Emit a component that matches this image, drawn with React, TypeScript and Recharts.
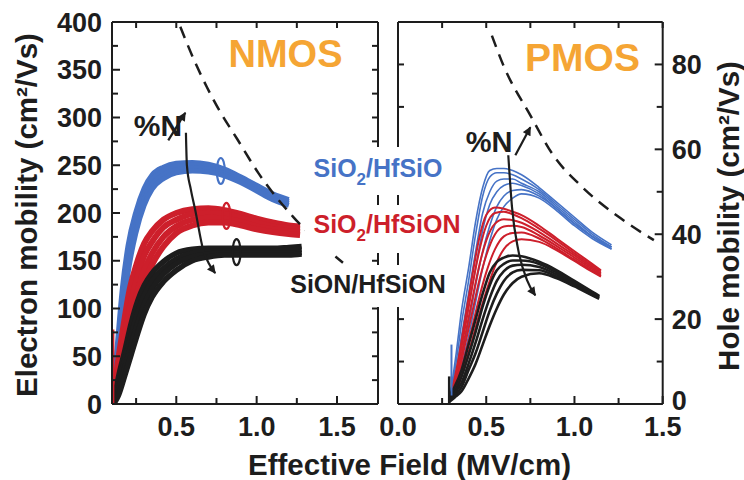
import React from "react";
import { ComposedChart, Line, Scatter, XAxis, YAxis } from "recharts";

// ---- NMOS panel: effective field (MV/cm) vs electron mobility (cm2/Vs)
const nBlueField = [0.105, 0.13, 0.165, 0.2, 0.25, 0.3, 0.35, 0.42, 0.5, 0.6, 0.7, 0.8, 0.9, 1.0, 1.1, 1.2];
const nBlue1 = [0, 55, 122, 166, 202, 226, 240, 248, 252, 253, 251, 246, 238, 229, 220, 214];
const nBlue2 = [0, 48, 110, 156, 195, 220, 235, 244, 249, 250, 249, 244, 236, 227, 218, 212];
const nBlue3 = [0, 41, 98, 146, 187, 214, 230, 240, 245, 247, 246, 241, 234, 225, 216, 210];
const nBlue4 = [0, 35, 88, 137, 180, 208, 225, 236, 242, 244, 243, 239, 232, 223, 214, 208];

const nRedField = [0.108, 0.13, 0.165, 0.21, 0.25, 0.3, 0.35, 0.42, 0.5, 0.6, 0.7, 0.8, 0.9, 1.0, 1.1, 1.2, 1.27];
const nRed1 = [0, 35, 75, 120, 145, 168, 181, 193, 200, 204, 205, 203, 199, 194, 190, 187, 186];
const nRed2 = [0, 25, 58, 100, 128, 155, 170, 185, 193, 199, 200, 199, 195, 190, 186, 184, 183];
const nRed3 = [0, 18, 45, 82, 112, 140, 158, 175, 186, 193, 195, 194, 191, 186, 183, 181, 180];
const nRed4 = [0, 12, 35, 70, 98, 126, 146, 165, 179, 187, 190, 190, 187, 183, 180, 178, 177];

const nBlackField = [0.11, 0.14, 0.18, 0.22, 0.26, 0.3, 0.35, 0.42, 0.5, 0.6, 0.7, 0.8, 0.9, 1.0, 1.1, 1.2, 1.28];
const nBlack1 = [0, 28, 56, 85, 108, 124, 137, 149, 158, 162, 163, 163, 163, 163, 163, 164, 165];
const nBlack2 = [0, 20, 46, 72, 96, 114, 129, 142, 152, 158, 160, 160, 160, 160, 160, 161, 162];
const nBlack3 = [0, 14, 38, 62, 85, 104, 121, 136, 147, 154, 157, 158, 158, 158, 158, 158, 159];
const nBlack4 = [0, 9, 30, 52, 74, 94, 112, 128, 140, 150, 154, 156, 156, 156, 156, 156, 157];

const nSpikeField = [0.107, 0.107];
const nSpikeMob = [0, 78];

const nDashField = [0.525, 0.606, 0.69, 0.773, 0.877, 1.01, 1.227, 1.537];
const nDashMob = [395, 362, 332, 306, 278, 242, 196, 148];

const nArrowDownField = [0.56, 0.566, 0.59, 0.618, 0.668, 0.7, 0.742];
const nArrowDownMob = [284, 250, 225, 203, 161, 148, 137];
const nArrowUpField = [0.45, 0.556];
const nArrowUpMob = [276, 305];

const nRingField = [0.777, 0.812, 0.875];
const nRingMob = [244, 197, 159];

// ---- PMOS panel: effective field (MV/cm) vs hole mobility (cm2/Vs)
const pBlueField = [0.3, 0.33, 0.36, 0.4, 0.44, 0.48, 0.52, 0.56, 0.6, 0.65, 0.7, 0.8, 0.9, 1.0, 1.1, 1.21];
const pBlue1 = [3, 12, 22, 32, 43, 51, 55, 55.5, 55.5, 55, 54, 51, 47.5, 44, 40.5, 37.5];
const pBlue2 = [3, 10, 19, 29, 40, 49, 53.5, 54.5, 54.5, 54, 53, 50.5, 47, 43.5, 40, 37];
const pBlue3 = [2, 8, 16, 26, 36, 45, 50, 52.5, 53, 53, 52, 50, 46.5, 43, 39.5, 36.5];
const pBlue4 = [2, 7, 14, 23, 32, 41, 47, 50, 51.5, 52, 51.5, 49.5, 46, 42.5, 39.5, 37];
const pBlue5 = [1, 5, 11, 19, 28, 36, 42, 46.5, 49, 50.3, 50.5, 49, 46, 42.5, 39.5, 37];
const pBlue6 = [1, 4, 9, 16, 24, 32, 38.5, 43.5, 46.5, 48.5, 49.5, 48.5, 45.5, 42, 39, 36.5];

const pRedField = [0.3, 0.34, 0.38, 0.42, 0.46, 0.5, 0.55, 0.6, 0.65, 0.7, 0.8, 0.9, 1.0, 1.1, 1.15];
const pRed1 = [2, 10, 20, 30, 39, 44.5, 46.3, 46, 45.3, 44.5, 42, 39, 36, 33, 31.5];
const pRed2 = [2, 9, 18, 27.5, 36, 42, 45, 45.3, 44.7, 43.8, 41.3, 38.5, 35.5, 32.6, 31.2];
const pRed3 = [1.5, 7.5, 16, 24.5, 32.5, 38.5, 42.5, 43.5, 43.3, 42.7, 40.5, 37.8, 35, 32.2, 30.8];
const pRed4 = [1.5, 6.5, 14, 21.5, 29, 35, 40, 41.8, 42, 41.7, 39.7, 37.2, 34.5, 31.8, 30.5];
const pRed5 = [1, 5, 11.5, 18, 25, 31, 36.5, 39.5, 40.3, 40.4, 39, 36.6, 34, 31.4, 30.2];
const pRed6 = [1, 4, 9.5, 15, 21, 26.5, 32.5, 36.5, 38.3, 38.8, 38.2, 36.2, 33.7, 31.2, 30];

const pBlackField = [0.29, 0.32, 0.36, 0.4, 0.44, 0.48, 0.52, 0.56, 0.6, 0.65, 0.7, 0.8, 0.9, 1.0, 1.1, 1.14];
const pBlack1 = [2, 4, 8, 14, 20, 26, 31, 33.5, 34.5, 35, 34.8, 33.5, 31.5, 29, 26.5, 25.5];
const pBlack2 = [1.5, 3, 6.5, 11.5, 17, 23, 28, 31.5, 33, 33.8, 33.8, 33, 31, 28.7, 26.3, 25.3];
const pBlack3 = [1, 2.5, 5, 9.5, 14.5, 20, 25, 29, 31.3, 32.6, 32.8, 32.3, 30.5, 28.3, 26, 25.2];
const pBlack4 = [1, 2, 4, 8, 12, 17, 22, 26, 29, 31, 31.6, 31.5, 30, 28, 25.8, 25];
const pBlack5 = [0.5, 1.5, 3, 6, 9.5, 14, 18.5, 22.5, 25.8, 28.5, 30, 30.8, 29.6, 27.7, 25.6, 24.8];

const pBlueSpikeField = [0.303, 0.303];
const pBlueSpikeMob = [2, 14];
const pBlackSpikeField = [0.29, 0.29];
const pBlackSpikeMob = [0, 6.5];

const pDashField = [0.532, 0.597, 0.75, 0.88, 1.034, 1.26, 1.45];
const pDashMob = [86.8, 79.8, 68, 58.6, 51.5, 43.8, 38.6];

const pArrowDownField = [0.625, 0.646, 0.682, 0.731, 0.778];
const pArrowDownMob = [58.6, 46.4, 36.2, 29.2, 25.6];
const pArrowUpField = [0.665, 0.75];
const pArrowUpMob = [58.6, 65.2];

// ---- ticks
const nFieldTicks = [0.25, 0.5, 0.75, 1.0, 1.25, 1.5];
const nFieldLabels = [0.5, 1.0, 1.5];
const nMobTicks = [0, 25, 50, 75, 100, 125, 150, 175, 200, 225, 250, 275, 300, 325, 350, 375, 400];
const nMobLabels = [0, 50, 100, 150, 200, 250, 300, 350, 400];
const pFieldTicks = [0, 0.25, 0.5, 0.75, 1.0, 1.25, 1.5];
const pFieldLabels = [0, 0.5, 1.0, 1.5];
const pMobTicks = [0, 10, 20, 30, 40, 50, 60, 70, 80];
const pMobLabels = [0, 20, 40, 60, 80];

const FONT = '"Liberation Sans", Arial, Helvetica, sans-serif';
const INK = "#1d1d1d";
const BLUE = "#4673c6";
const RED = "#cd1f2b";
const ORANGE = "#f5a534";
const AXIS = { stroke: INK, strokeWidth: 2 };

const pts = (xs: number[], vs: number[]) => xs.map((x, i) => ({ x, v: vs[i] }));

type Side = "bottom" | "top" | "left" | "right";

function makeTick(side: Side, labels: number[], digits: number) {
  return (props: any) => {
    const { x, y, payload } = props;
    const v = Number(payload.value);
    const labeled = labels.some((l) => Math.abs(l - v) < 1e-9);
    const len = labeled ? 8 : 6;
    const txt = digits > 0 ? v.toFixed(digits) : String(v);
    const style = { fontFamily: FONT, fontWeight: 700, fontSize: 27 };
    let tick = null;
    let label = null;
    if (side === "bottom") {
      tick = <line x1={x} y1={y} x2={x} y2={y - len} stroke={INK} strokeWidth={2} />;
      if (labeled) label = <text x={x} y={y + 32} textAnchor="middle" fill={INK} style={style}>{txt}</text>;
    } else if (side === "top") {
      tick = <line x1={x} y1={y} x2={x} y2={y + len} stroke={INK} strokeWidth={2} />;
    } else if (side === "left") {
      tick = <line x1={x} y1={y} x2={x + len} y2={y} stroke={INK} strokeWidth={2} />;
      if (labeled) label = <text x={x - 10} y={y + 9.5} textAnchor="end" fill={INK} style={style}>{txt}</text>;
    } else {
      tick = <line x1={x} y1={y} x2={x - len} y2={y} stroke={INK} strokeWidth={2} />;
      // the bottom label sits a little higher so it clears the "1.5" below it
      const dy = v === 0 ? 5.5 : 9.5;
      if (labeled) label = <text x={x + 9} y={y + dy} textAnchor="start" fill={INK} style={style}>{txt}</text>;
    }
    return (
      <g>
        {tick}
        {label}
      </g>
    );
  };
}

const ringShape = (color: string) => (props: any) =>
  <ellipse cx={props.cx} cy={props.cy} rx={4} ry={13} fill="none" stroke={color} strokeWidth={2.2} />;

const nSeries = [
  ...[nBlue1, nBlue2, nBlue3, nBlue4].map((vs) => ({ d: pts(nBlueField, vs), c: BLUE, w: 5 })),
  ...[nRed1, nRed2, nRed3, nRed4].map((vs) => ({ d: pts(nRedField, vs), c: RED, w: 6 })),
  ...[nBlack1, nBlack2, nBlack3, nBlack4].map((vs) => ({ d: pts(nBlackField, vs), c: INK, w: 5.5 })),
];

const pSeries = [
  ...[pBlue1, pBlue2, pBlue3, pBlue4, pBlue5, pBlue6].map((vs) => ({ d: pts(pBlueField, vs), c: BLUE, w: 1.6 })),
  ...[pRed1, pRed2, pRed3, pRed4, pRed5, pRed6].map((vs) => ({ d: pts(pRedField, vs), c: RED, w: 2 })),
  ...[pBlack1, pBlack2, pBlack3, pBlack4, pBlack5].map((vs) => ({ d: pts(pBlackField, vs), c: INK, w: 2.6 })),
];

function Text({ x, y, size, color = INK, lh = 1, children }: any) {
  return (
    <div style={{ position: "absolute", left: x, top: y, transform: "translate(-50%, -50%)", whiteSpace: "nowrap",
      fontSize: size, lineHeight: lh, fontWeight: 700, color, fontFamily: FONT }}>
      {children}
    </div>
  );
}

const Box = ({ l, t, r, b }: any) => (
  <div style={{ position: "absolute", left: l, top: t, width: r - l, height: b - t, background: "#fff" }} />
);

const Sub = ({ children }: any) => <span style={{ fontSize: 17, position: "relative", top: 8 }}>{children}</span>;

const arrowMarker = (id: string) => (
  <defs>
    <marker id={id} viewBox="0 0 10 10" refX={9} refY={5} markerWidth={4.5} markerHeight={4} orient="auto">
      <path d="M0,0 L10,5 L0,10 z" fill={INK} />
    </marker>
  </defs>
);

export default function App() {
  return (
    <div style={{ position: "absolute", left: 0, top: 0, width: 744, height: 480, background: "#fff", overflow: "hidden", fontFamily: FONT }}>
      <div style={{ position: "absolute", left: 0, top: 0 }}>
        <ComposedChart width={390} height={480} margin={{ top: 0, right: 0, bottom: 46, left: 52 }}>
          {arrowMarker("nArrow")}
          <XAxis type="number" dataKey="x" domain={[0.1, 1.755]} allowDataOverflow ticks={nFieldTicks} interval={0}
            height={30} tickSize={0} tickMargin={0} tickLine={false} axisLine={AXIS} tick={makeTick("bottom", nFieldLabels, 1)} />
          <XAxis xAxisId="top" orientation="top" type="number" dataKey="x" domain={[0.1, 1.755]} allowDataOverflow ticks={nFieldTicks} interval={0}
            height={22} tickSize={0} tickMargin={0} tickLine={false} axisLine={AXIS} tick={makeTick("top", [], 1)} />
          <YAxis type="number" dataKey="v" domain={[0, 400]} allowDataOverflow ticks={nMobTicks} interval={0}
            width={60} tickSize={0} tickMargin={0} tickLine={false} axisLine={AXIS} tick={makeTick("left", nMobLabels, 0)} />
          <YAxis yAxisId="r" orientation="right" type="number" dataKey="v" domain={[0, 400]} allowDataOverflow ticks={nMobTicks} interval={0}
            width={12} tickSize={0} tickMargin={0} tickLine={false} axisLine={AXIS} tick={makeTick("right", [], 0)} />
          {nSeries.map((s, i) => (
            <Line key={"n" + i} data={s.d} dataKey="v" type="monotone" stroke={s.c} strokeWidth={s.w} dot={false} activeDot={false} isAnimationActive={false} />
          ))}
          <Line data={pts(nSpikeField, nSpikeMob)} dataKey="v" type="linear" stroke={RED} strokeWidth={2.5} dot={false} activeDot={false} isAnimationActive={false} />
          <Line data={pts(nDashField, nDashMob)} dataKey="v" type="monotone" stroke={INK} strokeWidth={2.5} strokeDasharray="12 8" dot={false} activeDot={false} isAnimationActive={false} />
          <Line data={pts(nArrowDownField, nArrowDownMob)} dataKey="v" type="monotone" stroke={INK} strokeWidth={2.2} markerEnd="url(#nArrow)" dot={false} activeDot={false} isAnimationActive={false} />
          <Line data={pts(nArrowUpField, nArrowUpMob)} dataKey="v" type="linear" stroke={INK} strokeWidth={2.2} markerEnd="url(#nArrow)" dot={false} activeDot={false} isAnimationActive={false} />
          <Scatter data={pts(nRingField.slice(0, 1), nRingMob.slice(0, 1))} dataKey="v" shape={ringShape(BLUE)} isAnimationActive={false} />
          <Scatter data={pts(nRingField.slice(1, 2), nRingMob.slice(1, 2))} dataKey="v" shape={ringShape(RED)} isAnimationActive={false} />
          <Scatter data={pts(nRingField.slice(2, 3), nRingMob.slice(2, 3))} dataKey="v" shape={ringShape(INK)} isAnimationActive={false} />
        </ComposedChart>
      </div>

      <div style={{ position: "absolute", left: 380, top: 0 }}>
        <ComposedChart width={364} height={480} margin={{ top: 0, right: 41.3, bottom: 46, left: 0 }}>
          {arrowMarker("pArrow")}
          <XAxis type="number" dataKey="x" domain={[0, 1.5]} allowDataOverflow ticks={pFieldTicks} interval={0}
            height={30} tickSize={0} tickMargin={0} tickLine={false} axisLine={AXIS} tick={makeTick("bottom", pFieldLabels, 1)} />
          <XAxis xAxisId="top" orientation="top" type="number" dataKey="x" domain={[0, 1.5]} allowDataOverflow ticks={pFieldTicks} interval={0}
            height={22} tickSize={0} tickMargin={0} tickLine={false} axisLine={AXIS} tick={makeTick("top", [], 1)} />
          <YAxis yAxisId="l" type="number" dataKey="v" domain={[0, 90]} allowDataOverflow ticks={pMobTicks} interval={0}
            width={18} tickSize={0} tickMargin={0} tickLine={false} axisLine={AXIS} tick={makeTick("left", [], 0)} />
          <YAxis orientation="right" type="number" dataKey="v" domain={[0, 90]} allowDataOverflow ticks={pMobTicks} interval={0}
            width={40} tickSize={0} tickMargin={0} tickLine={false} axisLine={AXIS} tick={makeTick("right", pMobLabels, 0)} />
          {pSeries.map((s, i) => (
            <Line key={"p" + i} data={s.d} dataKey="v" type="monotone" stroke={s.c} strokeWidth={s.w} dot={false} activeDot={false} isAnimationActive={false} />
          ))}
          <Line data={pts(pBlueSpikeField, pBlueSpikeMob)} dataKey="v" type="linear" stroke={BLUE} strokeWidth={2} dot={false} activeDot={false} isAnimationActive={false} />
          <Line data={pts(pBlackSpikeField, pBlackSpikeMob)} dataKey="v" type="linear" stroke={INK} strokeWidth={2.5} dot={false} activeDot={false} isAnimationActive={false} />
          <Line data={pts(pDashField, pDashMob)} dataKey="v" type="monotone" stroke={INK} strokeWidth={2.5} strokeDasharray="12 8" dot={false} activeDot={false} isAnimationActive={false} />
          <Line data={pts(pArrowDownField, pArrowDownMob)} dataKey="v" type="monotone" stroke={INK} strokeWidth={2.2} markerEnd="url(#pArrow)" dot={false} activeDot={false} isAnimationActive={false} />
          <Line data={pts(pArrowUpField, pArrowUpMob)} dataKey="v" type="linear" stroke={INK} strokeWidth={2.2} markerEnd="url(#pArrow)" dot={false} activeDot={false} isAnimationActive={false} />
        </ComposedChart>
      </div>

      <Box l={308} t={147} r={450} b={195} />
      <Box l={305} t={205} r={466} b={253} />
      <Box l={285} t={265} r={452} b={307} />

      <Text x={378} y={168} size={25} color={BLUE}>SiO<Sub>2</Sub>/HfSiO</Text>
      <Text x={387} y={224} size={25} color={RED}>SiO<Sub>2</Sub>/HfSiON</Text>
      <Text x={368} y={284} size={25}>SiON/HfSiON</Text>

      <Text x={285.5} y={54} size={38} color={ORANGE}>NMOS</Text>
      <Text x={582.5} y={56.5} size={39} color={ORANGE}>PMOS</Text>
      <Text x={158} y={126} size={30}>%N</Text>
      <Text x={489} y={142} size={29}>%N</Text>

      <div style={{ position: "absolute", left: 27, top: 214.5, transform: "translate(-50%, -50%) rotate(-90deg)", whiteSpace: "nowrap",
        fontSize: 29.5, lineHeight: 0.9, fontWeight: 700, color: INK, fontFamily: FONT }}>Electron mobility (cm²/Vs)</div>
      <div style={{ position: "absolute", left: 729, top: 216, transform: "translate(-50%, -50%) rotate(-90deg)", whiteSpace: "nowrap",
        fontSize: 29.5, lineHeight: 0.9, fontWeight: 700, color: INK, fontFamily: FONT }}>Hole mobility (cm²/Vs)</div>
      <Text x={409.5} y={465} size={29.5} lh={0.9}>Effective Field (MV/cm)</Text>
    </div>
  );
}
